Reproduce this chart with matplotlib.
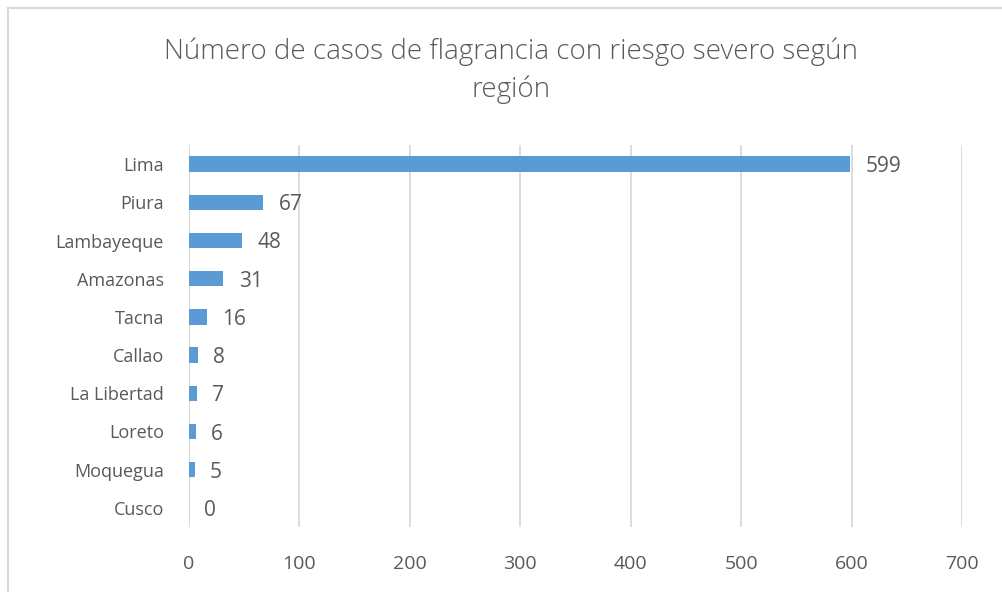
import matplotlib.pyplot as plt
from matplotlib.patches import Rectangle

regiones = ['Lima', 'Piura', 'Lambayeque', 'Amazonas', 'Tacna', 'Callao',
            'La Libertad', 'Loreto', 'Moquegua', 'Cusco']
casos = [599, 67, 48, 31, 16, 8, 7, 6, 5, 0]
ticks_x = [0, 100, 200, 300, 400, 500, 600, 700]

plt.rcParams['font.family'] = ['Open Sans', 'DejaVu Sans']
gris = '#595959'

fig = plt.figure(figsize=(10.03, 5.92), dpi=100)
ax = fig.add_axes([189 / 1003, 1 - 527 / 592, (962 - 189) / 1003, (527 - 145) / 592])

y = list(range(len(regiones)))[::-1]
ax.barh(y, casos, height=0.4, color='#5B9BD5', zorder=3)
for yi, v in zip(y, casos):
    ax.text(v + 14, yi, str(v), va='center_baseline', ha='left', fontsize=15, color=gris)

ax.set_xlim(0, 700)
ax.set_ylim(-0.5, len(regiones) - 0.5)
ax.set_xticks(ticks_x)
ax.set_yticks(y)
ax.set_yticklabels(regiones)
ax.tick_params(length=0, labelsize=13, colors=gris)
ax.tick_params(axis='x', labelsize=14, pad=20)
ax.tick_params(axis='y', pad=18)
ax.grid(axis='x', color='#D9D9D9', linewidth=1.3, zorder=0)
for s in ax.spines.values():
    s.set_visible(False)
ax.axvline(0, color='#D9D9D9', linewidth=1.3, zorder=1)

fig.text(511 / 1003, 1 - 71 / 592, 'Número de casos de flagrancia con riesgo severo según\nregión',
         ha='center', va='center', fontsize=20, color=gris, linespacing=1.45,
         fontweight='light')

fig.patches.append(Rectangle((8 / 1003, -0.1), 1.2, 1 - 8 / 592 + 0.1, transform=fig.transFigure,
                             fill=False, edgecolor='#D9D9D9', linewidth=1.5))

fig.savefig('out.png', dpi=100)
